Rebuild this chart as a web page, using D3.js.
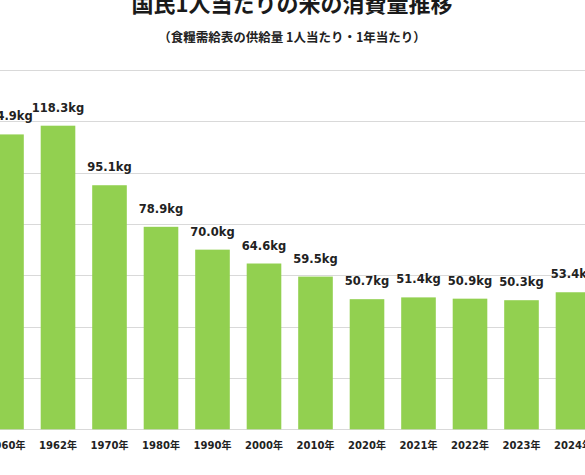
<!DOCTYPE html>
<html>
<head>
<meta charset="utf-8">
<script src="https://cdn.jsdelivr.net/npm/d3@7"></script>
<style>
  body { margin: 0; background: #fff; }
  svg { display: block; }
</style>
</head>
<body>
<svg id="chart"></svg>
<script>
// rice per person per year, from the food balance sheet
var years = ["1960年", "1962年", "1970年", "1980年", "1990年", "2000年",
             "2010年", "2020年", "2021年", "2022年", "2023年", "2024年"];
var values = [114.9, 118.3, 95.1, 78.9, 70.0, 64.6, 59.5, 50.7, 51.4, 50.9, 50.3, 53.4];
var gridTicks = [0, 20, 40, 60, 80, 100, 120, 140];

var titleText = "国民1人当たりの米の消費量推移";
var subtitleText = "（食糧需給表の供給量 1人当たり・1年当たり）";

w = 585;
h = 475;

var svg = d3.select("#chart").attr("width", w).attr("height", h);

// the picture is a crop, so the plot runs past both edges
var x = d3.scaleBand()
    .domain(years)
    .range([-19.25, 598.75])
    .paddingInner(0.328)
    .paddingOuter(0.164);

var y = d3.scaleLinear().domain([0, 140]).range([429.3, 70]);

// gridlines
svg.append("g").selectAll("line")
    .data(gridTicks)
    .enter().append("line")
    .attr("x1", 0)
    .attr("x2", w)
    .attr("y1", function(d) { return Math.round(y(d)) + 0.5; })
    .attr("y2", function(d) { return Math.round(y(d)) + 0.5; })
    .attr("stroke", "#d9d9d9")
    .attr("stroke-width", 1);

// bars
svg.append("g").selectAll("rect")
    .data(values)
    .enter().append("rect")
    .attr("x", function(d, i) { return x(years[i]); })
    .attr("width", x.bandwidth())
    .attr("y", function(d) { return y(d); })
    .attr("height", function(d) { return y(0) - y(d); })
    .attr("fill", "#92d050");

// value labels
svg.append("g").selectAll("text")
    .data(values)
    .enter().append("text")
    .attr("x", function(d, i) { return x(years[i]) + x.bandwidth() / 2; })
    .attr("y", function(d) { return y(d) - 14; })
    .attr("text-anchor", "middle")
    .style("font-family", "'DejaVu Sans', 'Noto Sans CJK JP', sans-serif")
    .style("font-weight", "bold")
    .style("font-size", "11.5px")
    .attr("fill", "#222")
    .text(function(d) { return d.toFixed(1) + "kg"; });

// category axis (no line, baseline is a gridline)
var xAxis = svg.append("g")
    .attr("transform", "translate(0," + y(0) + ")")
    .call(d3.axisBottom(x).tickSize(0).tickPadding(13));
xAxis.select(".domain").remove();
xAxis.selectAll("text")
    .style("font-family", "'DejaVu Sans', 'Noto Sans CJK JP', sans-serif")
    .style("font-weight", "bold")
    .style("font-size", "10px")
    .attr("fill", "#222");

// titles
svg.append("text")
    .attr("x", 292)
    .attr("y", 12)
    .attr("text-anchor", "middle")
    .style("font-family", "'Noto Sans CJK JP', sans-serif")
    .style("font-weight", "bold")
    .style("font-size", "22px")
    .attr("fill", "#1a1a1a")
    .text(titleText);

svg.append("text")
    .attr("x", 292)
    .attr("y", 42)
    .attr("text-anchor", "middle")
    .style("font-family", "'Noto Sans CJK JP', sans-serif")
    .style("font-weight", "bold")
    .style("font-size", "12.5px")
    .attr("fill", "#222")
    .text(subtitleText);
</script>
</body>
</html>
